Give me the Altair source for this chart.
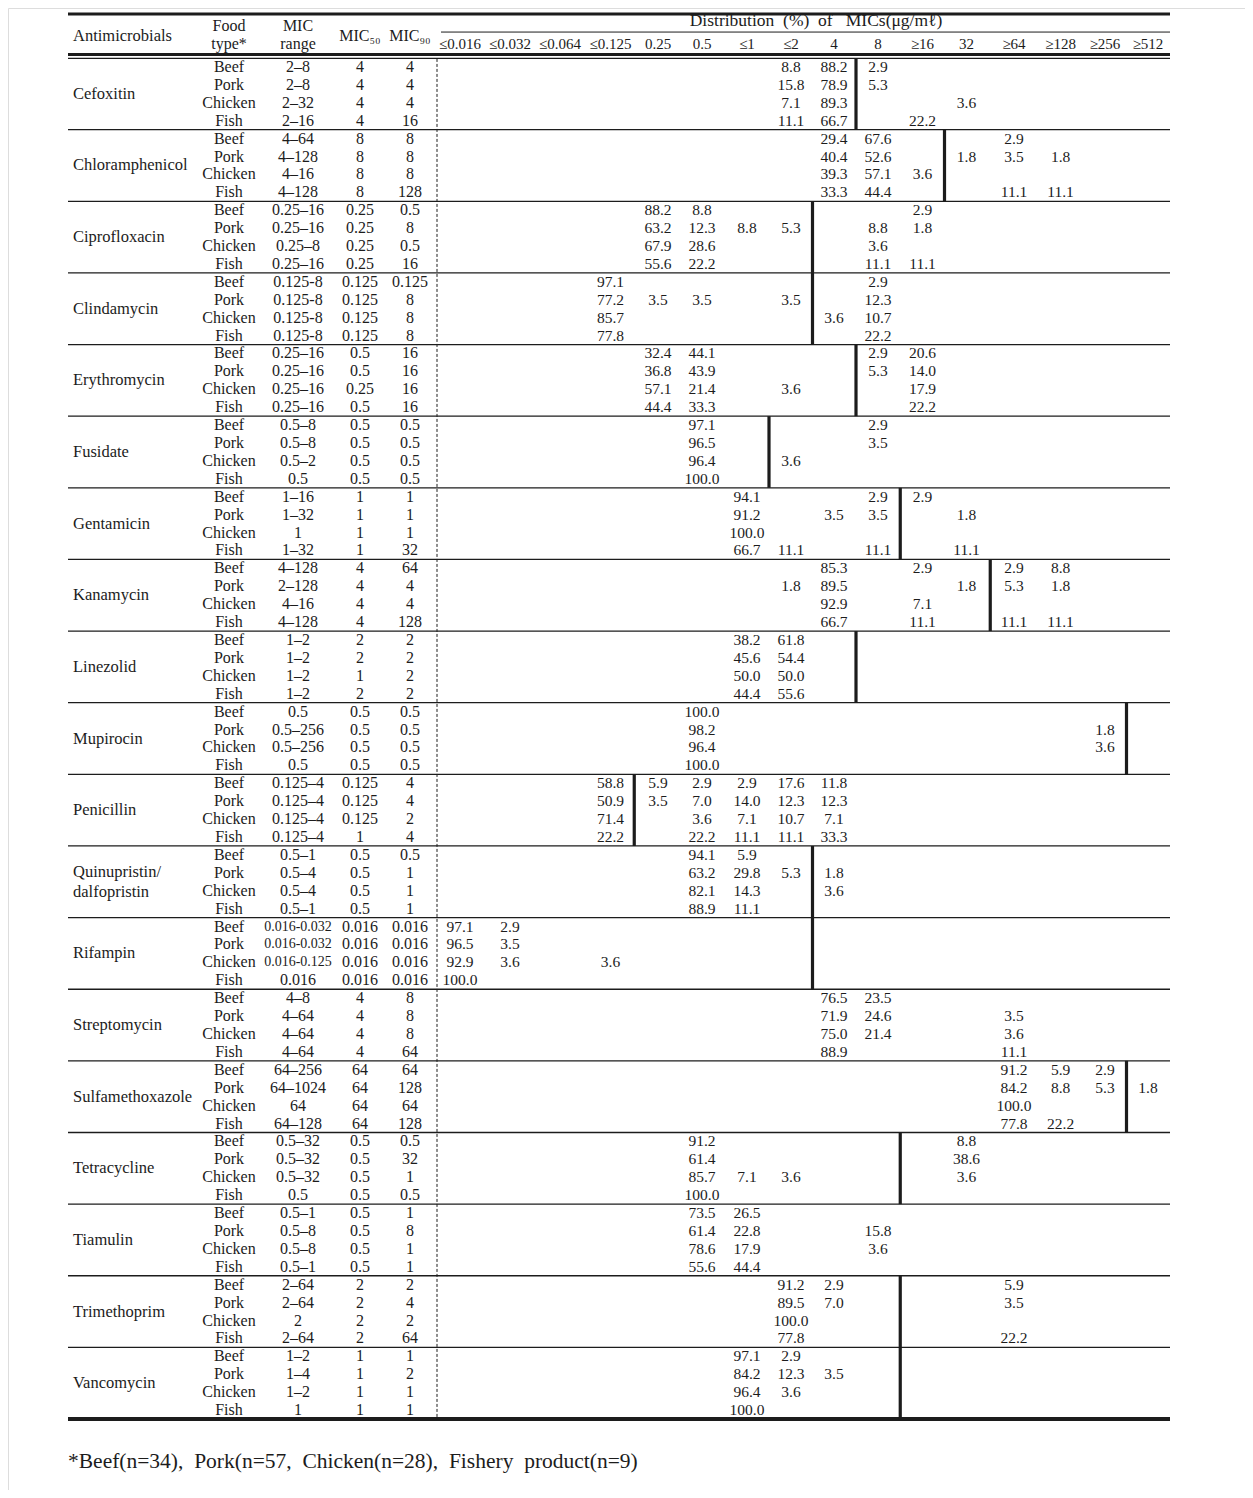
import altair as alt
import pandas as pd

# ---------------- data ----------------
antimicrobials = ["Cefoxitin", "Chloramphenicol", "Ciprofloxacin", "Clindamycin",
                  "Erythromycin", "Fusidate", "Gentamicin", "Kanamycin", "Linezolid",
                  "Mupirocin", "Penicillin", "Quinupristin/dalfopristin", "Rifampin",
                  "Streptomycin", "Sulfamethoxazole", "Tetracycline", "Tiamulin",
                  "Trimethoprim", "Vancomycin"]
food_types = ["Beef", "Pork", "Chicken", "Fish"]

mic_range = [
    "2–8", "2–8", "2–32", "2–16",
    "4–64", "4–128", "4–16", "4–128",
    "0.25–16", "0.25–16", "0.25–8", "0.25–16",
    "0.125-8", "0.125-8", "0.125-8", "0.125-8",
    "0.25–16", "0.25–16", "0.25–16", "0.25–16",
    "0.5–8", "0.5–8", "0.5–2", "0.5",
    "1–16", "1–32", "1", "1–32",
    "4–128", "2–128", "4–16", "4–128",
    "1–2", "1–2", "1–2", "1–2",
    "0.5", "0.5–256", "0.5–256", "0.5",
    "0.125–4", "0.125–4", "0.125–4", "0.125–4",
    "0.5–1", "0.5–4", "0.5–4", "0.5–1",
    "0.016-0.032", "0.016-0.032", "0.016-0.125", "0.016",
    "4–8", "4–64", "4–64", "4–64",
    "64–256", "64–1024", "64", "64–128",
    "0.5–32", "0.5–32", "0.5–32", "0.5",
    "0.5–1", "0.5–8", "0.5–8", "0.5–1",
    "2–64", "2–64", "2", "2–64",
    "1–2", "1–4", "1–2", "1",
]
mic50 = [
    "4", "4", "4", "4",
    "8", "8", "8", "8",
    "0.25", "0.25", "0.25", "0.25",
    "0.125", "0.125", "0.125", "0.125",
    "0.5", "0.5", "0.25", "0.5",
    "0.5", "0.5", "0.5", "0.5",
    "1", "1", "1", "1",
    "4", "4", "4", "4",
    "2", "2", "1", "2",
    "0.5", "0.5", "0.5", "0.5",
    "0.125", "0.125", "0.125", "1",
    "0.5", "0.5", "0.5", "0.5",
    "0.016", "0.016", "0.016", "0.016",
    "4", "4", "4", "4",
    "64", "64", "64", "64",
    "0.5", "0.5", "0.5", "0.5",
    "0.5", "0.5", "0.5", "0.5",
    "2", "2", "2", "2",
    "1", "1", "1", "1",
]
mic90 = [
    "4", "4", "4", "16",
    "8", "8", "8", "128",
    "0.5", "8", "0.5", "16",
    "0.125", "8", "8", "8",
    "16", "16", "16", "16",
    "0.5", "0.5", "0.5", "0.5",
    "1", "1", "1", "32",
    "64", "4", "4", "128",
    "2", "2", "2", "2",
    "0.5", "0.5", "0.5", "0.5",
    "4", "4", "2", "4",
    "0.5", "1", "1", "1",
    "0.016", "0.016", "0.016", "0.016",
    "8", "8", "8", "64",
    "64", "128", "64", "128",
    "0.5", "32", "1", "0.5",
    "1", "8", "1", "1",
    "2", "4", "2", "64",
    "1", "2", "1", "1",
]

dist_labels = ["≤0.016", "≤0.032", "≤0.064", "≤0.125", "0.25", "0.5", "≤1", "≤2",
               "4", "8", "≥16", "32", "≥64", "≥128", "≥256", "≥512"]

# distribution (%) per row: {column index: percent}
distribution = [
    # Cefoxitin
    {7: 8.8, 8: 88.2, 9: 2.9}, {7: 15.8, 8: 78.9, 9: 5.3},
    {7: 7.1, 8: 89.3, 11: 3.6}, {7: 11.1, 8: 66.7, 10: 22.2},
    # Chloramphenicol
    {8: 29.4, 9: 67.6, 12: 2.9}, {8: 40.4, 9: 52.6, 11: 1.8, 12: 3.5, 13: 1.8},
    {8: 39.3, 9: 57.1, 10: 3.6}, {8: 33.3, 9: 44.4, 12: 11.1, 13: 11.1},
    # Ciprofloxacin
    {4: 88.2, 5: 8.8, 10: 2.9}, {4: 63.2, 5: 12.3, 6: 8.8, 7: 5.3, 9: 8.8, 10: 1.8},
    {4: 67.9, 5: 28.6, 9: 3.6}, {4: 55.6, 5: 22.2, 9: 11.1, 10: 11.1},
    # Clindamycin
    {3: 97.1, 9: 2.9}, {3: 77.2, 4: 3.5, 5: 3.5, 7: 3.5, 9: 12.3},
    {3: 85.7, 8: 3.6, 9: 10.7}, {3: 77.8, 9: 22.2},
    # Erythromycin
    {4: 32.4, 5: 44.1, 9: 2.9, 10: 20.6}, {4: 36.8, 5: 43.9, 9: 5.3, 10: 14.0},
    {4: 57.1, 5: 21.4, 7: 3.6, 10: 17.9}, {4: 44.4, 5: 33.3, 10: 22.2},
    # Fusidate
    {5: 97.1, 9: 2.9}, {5: 96.5, 9: 3.5}, {5: 96.4, 7: 3.6}, {5: 100.0},
    # Gentamicin
    {6: 94.1, 9: 2.9, 10: 2.9}, {6: 91.2, 8: 3.5, 9: 3.5, 11: 1.8},
    {6: 100.0}, {6: 66.7, 7: 11.1, 9: 11.1, 11: 11.1},
    # Kanamycin
    {8: 85.3, 10: 2.9, 12: 2.9, 13: 8.8}, {7: 1.8, 8: 89.5, 11: 1.8, 12: 5.3, 13: 1.8},
    {8: 92.9, 10: 7.1}, {8: 66.7, 10: 11.1, 12: 11.1, 13: 11.1},
    # Linezolid
    {6: 38.2, 7: 61.8}, {6: 45.6, 7: 54.4}, {6: 50.0, 7: 50.0}, {6: 44.4, 7: 55.6},
    # Mupirocin
    {5: 100.0}, {5: 98.2, 14: 1.8}, {5: 96.4, 14: 3.6}, {5: 100.0},
    # Penicillin
    {3: 58.8, 4: 5.9, 5: 2.9, 6: 2.9, 7: 17.6, 8: 11.8},
    {3: 50.9, 4: 3.5, 5: 7.0, 6: 14.0, 7: 12.3, 8: 12.3},
    {3: 71.4, 5: 3.6, 6: 7.1, 7: 10.7, 8: 7.1},
    {3: 22.2, 5: 22.2, 6: 11.1, 7: 11.1, 8: 33.3},
    # Quinupristin/dalfopristin
    {5: 94.1, 6: 5.9}, {5: 63.2, 6: 29.8, 7: 5.3, 8: 1.8},
    {5: 82.1, 6: 14.3, 8: 3.6}, {5: 88.9, 6: 11.1},
    # Rifampin
    {0: 97.1, 1: 2.9}, {0: 96.5, 1: 3.5}, {0: 92.9, 1: 3.6, 3: 3.6}, {0: 100.0},
    # Streptomycin
    {8: 76.5, 9: 23.5}, {8: 71.9, 9: 24.6, 12: 3.5},
    {8: 75.0, 9: 21.4, 12: 3.6}, {8: 88.9, 12: 11.1},
    # Sulfamethoxazole
    {12: 91.2, 13: 5.9, 14: 2.9}, {12: 84.2, 13: 8.8, 14: 5.3, 15: 1.8},
    {12: 100.0}, {12: 77.8, 13: 22.2},
    # Tetracycline
    {5: 91.2, 11: 8.8}, {5: 61.4, 11: 38.6},
    {5: 85.7, 6: 7.1, 7: 3.6, 11: 3.6}, {5: 100.0},
    # Tiamulin
    {5: 73.5, 6: 26.5}, {5: 61.4, 6: 22.8, 9: 15.8},
    {5: 78.6, 6: 17.9, 9: 3.6}, {5: 55.6, 6: 44.4},
    # Trimethoprim
    {7: 91.2, 8: 2.9, 12: 5.9}, {7: 89.5, 8: 7.0, 12: 3.5},
    {7: 100.0}, {7: 77.8, 12: 22.2},
    # Vancomycin
    {6: 97.1, 7: 2.9}, {6: 84.2, 7: 12.3, 8: 3.5},
    {6: 96.4, 7: 3.6}, {6: 100.0},
]

# breakpoint line drawn after this column index (None = no line)
breakpoints = [8, 10, 7, 7, 8, 6, 9, 11, 8, 14, 3, 7, 7, None, 14, 9, None, 9, 9]

NB = "\u00a0"
header_dist = f"Distribution{NB}{NB}(%){NB}{NB}of{NB}{NB}{NB}MICs(μg/mℓ)"
footnote = f"*Beef(n=34),{NB}{NB}Pork(n=57,{NB}{NB}Chicken(n=28),{NB}{NB}Fishery{NB}{NB}product(n=9)"

# ---------------- layout ----------------
W, H = 1237, 1482
XDOM = [8, 8 + W]
YDOM = [-2.793, -2.793 + H / 17.908]
X_NAME, X_FOOD, X_RANGE, X_50, X_90 = 73, 229, 298, 360, 410
X_DIST = [460, 510, 560, 610.5, 658, 702, 747, 791, 834, 878, 922.5, 966.5,
          1014, 1060.6, 1105, 1148]
X_LEFT, X_RIGHT, X_DASH = 68, 1170, 437
NROWS = len(mic_range)
FONT = "Liberation Serif"
INK = "#1c1c1c"

xs = alt.Scale(domain=XDOM, nice=False, zero=False)
ys = alt.Scale(domain=YDOM, nice=False, zero=False, reverse=True)


def X(f):
    return alt.X(f, type="quantitative", scale=xs, axis=None)


def Y(f):
    return alt.Y(f, type="quantitative", scale=ys, axis=None)


# ---- body cells ----
cells = []
for r in range(NROWS):
    y = r + 0.5
    cells.append(dict(x=X_FOOD, y=y, t=food_types[r % 4], s=16))
    rng = mic_range[r]
    cells.append(dict(x=X_RANGE, y=y, t=rng, s=14 if len(rng) > 9 else 16))
    cells.append(dict(x=X_50, y=y, t=mic50[r], s=16))
    cells.append(dict(x=X_90, y=y, t=mic90[r], s=16))
    for c, v in distribution[r].items():
        cells.append(dict(x=X_DIST[c], y=y, t=f"{v:.1f}", s=15.5))

# header cells (centered)
hdr = [
    dict(x=X_FOOD, y=-1.79, t="Food", s=16),
    dict(x=X_FOOD, y=-0.78, t="type*", s=16),
    dict(x=X_RANGE, y=-1.79, t="MIC", s=16),
    dict(x=X_RANGE, y=-0.78, t="range", s=16),
    dict(x=X_50, y=-1.23, t="MIC₅₀", s=16),
    dict(x=X_90, y=-1.23, t="MIC₉₀", s=16),
    dict(x=816, y=-2.07, t=header_dist, s=17.5),
]
for c, lab in enumerate(dist_labels):
    hdr.append(dict(x=X_DIST[c], y=-0.78, t=lab, s=15))
cells_df = pd.DataFrame(cells + hdr)

text_c = alt.Chart(cells_df).mark_text(
    align="center", baseline="middle", font=FONT, color=INK
).encode(x=X("x"), y=Y("y"), text="t:N", size=alt.Size("s:Q", scale=None))

# left aligned: names, header
left = [dict(x=X_NAME, y=-1.23, t="Antimicrobials")]
for g, name in enumerate(antimicrobials):
    yc = 4 * g + 2
    if "/" in name:
        a, b = name.split("/", 1)
        left.append(dict(x=X_NAME, y=yc - 0.55, t=a + "/"))
        left.append(dict(x=X_NAME, y=yc + 0.55, t=b))
    else:
        left.append(dict(x=X_NAME, y=yc, t=name))
text_l = alt.Chart(pd.DataFrame(left)).mark_text(
    align="left", baseline="middle", font=FONT, fontSize=16.5, color=INK
).encode(x=X("x"), y=Y("y"), text="t:N")

foot = alt.Chart(pd.DataFrame([dict(x=X_LEFT, y=78.4, t=footnote)])).mark_text(
    align="left", baseline="middle", font=FONT, fontSize=21.5, color=INK
).encode(x=X("x"), y=Y("y"), text="t:N")

# ---- horizontal rules ----
hr = [
    dict(x1=X_LEFT, x2=X_RIGHT, y=-2.46, sw=3),
    dict(x1=X_DASH + 4, x2=X_RIGHT, y=-1.45, sw=1),
    dict(x1=X_LEFT, x2=X_RIGHT, y=-0.19, sw=3),
    dict(x1=X_LEFT, x2=X_RIGHT, y=0.02, sw=1.2),
    dict(x1=X_LEFT, x2=X_RIGHT, y=NROWS, sw=4),
]
for g in range(1, len(antimicrobials)):
    hr.append(dict(x1=X_LEFT, x2=X_RIGHT, y=4 * g, sw=1.3))
hrule = alt.Chart(pd.DataFrame(hr)).mark_rule(color=INK).encode(
    x=X("x1"), x2="x2:Q", y=Y("y"), strokeWidth=alt.StrokeWidth("sw:Q", scale=None)
)

# ---- breakpoint vertical rules ----
vr = []
for g, b in enumerate(breakpoints):
    if b is None:
        continue
    vr.append(dict(x=(X_DIST[b] + X_DIST[b + 1]) / 2, y1=4 * g, y2=4 * g + 4))
vrule = alt.Chart(pd.DataFrame(vr)).mark_rule(color=INK, strokeWidth=3.2).encode(
    x=X("x"), y=Y("y1"), y2="y2:Q"
)

dash = alt.Chart(pd.DataFrame([dict(x=X_DASH, y1=0.05, y2=NROWS)])).mark_rule(
    color=INK, strokeWidth=1, strokeDash=[3, 2]
).encode(x=X("x"), y=Y("y1"), y2="y2:Q")

chart = alt.layer(hrule, dash, vrule, text_c, text_l, foot).properties(
    width=W, height=H, padding=0, autosize=alt.AutoSizeParams(type="none")
).configure_view(strokeWidth=0).configure(background="white")

chart.save("out.html", embed_options={"renderer": "svg", "actions": False})
